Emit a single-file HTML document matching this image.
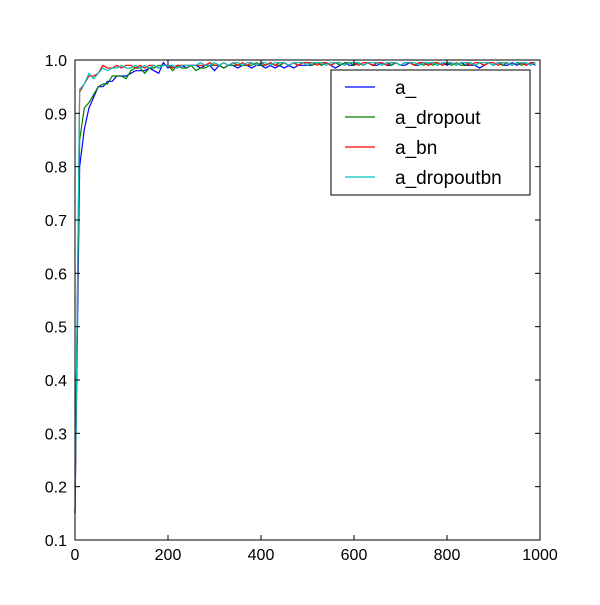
<!DOCTYPE html>
<html><head><meta charset="utf-8"><style>
body{margin:0;background:#fff;}
svg text{font-family:"Liberation Sans","DejaVu Sans",sans-serif;}
</style></head><body>
<svg id="chart" width="600" height="600" xmlns="http://www.w3.org/2000/svg">
<rect width="600" height="600" fill="#fff"/>
<g id="series"></g>
<g id="axes"></g>
<g id="legend"></g>
</svg>
<script>
const steps = Array.from({length:100},(_, i)=>i*10);
const seriesNames = ["a_","a_dropout","a_bn","a_dropoutbn"];
const seriesColors = ["#0000ff","#008000","#ff0000","#00bfbf"];
const blueVals = [0.15,0.80,0.87,0.91,0.93,0.95,0.95,0.96,0.96,0.97,0.97,0.97,0.975,0.98,0.98,0.98,0.985,0.98,0.975,0.995,0.985,0.99,0.985,0.99,0.985,0.99,0.99,0.985,0.99,0.99,0.98,0.99,0.985,0.99,0.99,0.985,0.99,0.99,0.985,0.99,0.99,0.985,0.99,0.985,0.99,0.985,0.99,0.985,0.99,0.99,0.99,0.99,0.995,0.99,0.995,0.99,0.985,0.99,0.995,0.99,0.99,0.995,0.99,0.995,0.99,0.99,0.995,0.99,0.99,0.995,0.99,0.99,0.995,0.99,0.99,0.995,0.99,0.995,0.99,0.995,0.99,0.995,0.99,0.995,0.99,0.99,0.99,0.985,0.99,0.995,0.99,0.995,0.99,0.99,0.995,0.99,0.995,0.99,0.995,0.99];
const greenVals = [0.2,0.85,0.91,0.92,0.935,0.95,0.955,0.955,0.97,0.97,0.97,0.965,0.98,0.985,0.985,0.975,0.985,0.985,0.99,0.99,0.99,0.98,0.99,0.985,0.985,0.99,0.98,0.985,0.985,0.99,0.99,0.99,0.985,0.99,0.99,0.99,0.99,0.99,0.99,0.995,0.99,0.99,0.995,0.99,0.99,0.995,0.99,0.995,0.99,0.995,0.995,0.99,0.995,0.99,0.995,0.99,0.995,0.99,0.995,0.995,0.99,0.995,0.99,0.995,0.99,0.995,0.99,0.995,0.99,0.995,0.99,0.995,0.995,0.99,0.995,0.99,0.995,0.99,0.995,0.99,0.995,0.99,0.995,0.99,0.99,0.995,0.99,0.995,0.99,0.995,0.99,0.995,0.99,0.995,0.99,0.995,0.99,0.995,0.99,0.995];
const redVals = [0.15,0.94,0.955,0.97,0.97,0.975,0.99,0.985,0.985,0.99,0.985,0.99,0.99,0.985,0.99,0.985,0.99,0.99,0.985,0.99,0.99,0.985,0.99,0.99,0.99,0.99,0.99,0.99,0.99,0.995,0.99,0.99,0.995,0.99,0.995,0.99,0.995,0.99,0.995,0.99,0.995,0.99,0.995,0.99,0.995,0.995,0.99,0.995,0.99,0.995,0.995,0.995,0.99,0.995,0.995,0.99,0.995,0.995,0.99,0.995,0.995,0.99,0.995,0.995,0.99,0.995,0.995,0.99,0.995,0.995,0.99,0.995,0.995,0.99,0.995,0.995,0.99,0.995,0.995,0.99,0.995,0.995,0.99,0.995,0.995,0.99,0.995,0.995,0.99,0.995,0.995,0.99,0.995,0.995,0.99,0.995,0.995,0.99,0.995,0.995];
const cyanVals = [0.15,0.945,0.955,0.975,0.965,0.975,0.985,0.98,0.985,0.985,0.99,0.985,0.985,0.99,0.985,0.99,0.985,0.99,0.985,0.99,0.99,0.99,0.985,0.99,0.99,0.99,0.99,0.995,0.99,0.99,0.995,0.99,0.995,0.99,0.995,0.995,0.99,0.995,0.995,0.99,0.995,0.995,0.99,0.995,0.995,0.995,0.99,0.995,0.995,0.995,0.99,0.995,0.995,0.995,0.99,0.995,0.995,0.995,0.99,0.995,0.995,0.995,0.99,0.995,0.995,0.995,0.99,0.995,0.995,0.995,0.99,0.995,0.995,0.995,0.99,0.995,0.995,0.995,0.99,0.995,0.995,0.995,0.99,0.995,0.995,0.995,0.99,0.995,0.995,0.995,0.99,0.995,0.995,0.995,0.99,0.995,0.995,0.995,0.99,0.995];
const xTicks = [0,200,400,600,800,1000];
const yTicks = [0.1,0.2,0.3,0.4,0.5,0.6,0.7,0.8,0.9,1.0];
const NS="http://www.w3.org/2000/svg";
const L=75,R=540,T=60,B=540;
const xs=v=>L+(v-0)/(1000-0)*(R-L);
const ys=v=>B-(v-0.1)/(1.0-0.1)*(B-T);
function mk(tag,attrs,parent){const e=document.createElementNS(NS,tag);for(const k in attrs)e.setAttribute(k,attrs[k]);parent.appendChild(e);return e;}
const sg=document.getElementById('series');
[blueVals,greenVals,redVals,cyanVals].forEach((vals,si)=>{
  const d=vals.map((v,i)=>(i?'L':'M')+xs(steps[i]).toFixed(2)+','+ys(v).toFixed(2)).join('');
  const p=mk('path',{d:d,fill:'none',stroke:seriesColors[si],'stroke-width':1.2},sg);
  
  
});
const ag=document.getElementById('axes');
const frame=mk('rect',{x:L,y:T,width:R-L,height:B-T,fill:'none',stroke:'#000','stroke-width':1},ag);


xTicks.forEach(t=>{
  const x=xs(t);
  mk('line',{x1:x,x2:x,y1:B,y2:B-5,stroke:'#000'},ag);
  mk('line',{x1:x,x2:x,y1:T,y2:T+5,stroke:'#000'},ag);
  const tx=mk('text',{x:x,y:B+20,'text-anchor':'middle','font-size':16},ag);
  tx.textContent=t;
  
  
});
yTicks.forEach(t=>{
  const y=ys(t);
  mk('line',{x1:L,x2:L+5,y1:y,y2:y,stroke:'#000'},ag);
  mk('line',{x1:R,x2:R-5,y1:y,y2:y,stroke:'#000'},ag);
  const tx=mk('text',{x:L-8,y:y+6,'text-anchor':'end','font-size':16},ag);
  tx.textContent=t.toFixed(1);
  
  
});
const lg=document.getElementById('legend');


mk('rect',{x:331,y:70,width:199,height:125,fill:'#fff',stroke:'#000','stroke-width':1},lg);
seriesNames.forEach((n,i)=>{
  const y=87+i*30;
  const ln=mk('line',{x1:345,x2:375,y1:y,y2:y,stroke:seriesColors[i],'stroke-width':1.2},lg);
  
  
  const tx=mk('text',{x:395,y:y+7,'font-size':19},lg);
  tx.textContent=n;
  
  
});
</script>
</body></html>
